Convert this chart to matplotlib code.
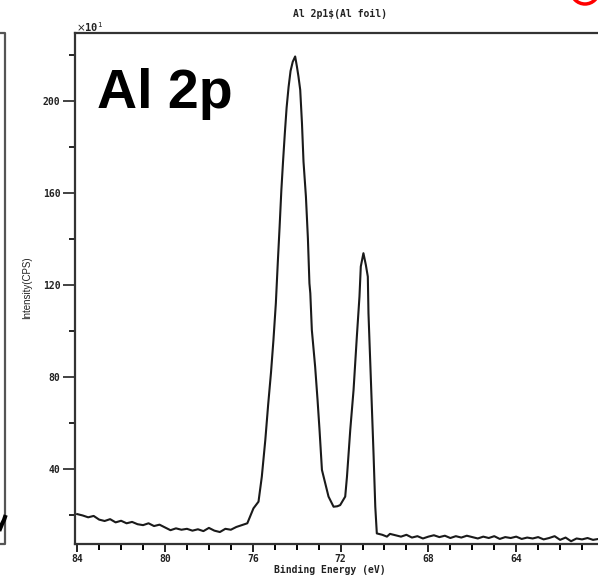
import matplotlib
matplotlib.use("Agg")
from matplotlib import pyplot as plt
from matplotlib.lines import Line2D
from matplotlib.patches import Ellipse
from matplotlib.ticker import MultipleLocator

# Al 2p spectrum, intensity in units of 10 CPS
binding_energy = [
    84.0, 83.75, 83.5, 83.25, 83.0, 82.75, 82.5, 82.25, 82.0, 81.75,
    81.5, 81.25, 81.0, 80.75, 80.5, 80.25, 80.0, 79.75, 79.5, 79.25,
    79.0, 78.75, 78.5, 78.25, 78.0, 77.75, 77.5, 77.25, 77.0, 76.75,
    76.5, 76.25, 75.97, 75.74, 75.59, 75.43, 75.3, 75.17, 75.06, 74.95,
    74.86, 74.78, 74.7, 74.62, 74.54, 74.46, 74.37, 74.28, 74.18, 74.07,
    73.99, 73.92, 73.84, 73.76, 73.69, 73.58, 73.49, 73.42, 73.38, 73.31,
    73.16, 73.05, 72.96, 72.85, 72.7, 72.55, 72.32, 72.15, 72.02, 71.79,
    71.71, 71.56, 71.41, 71.26, 71.14, 71.08, 70.96, 70.85, 70.76, 70.73,
    70.62, 70.5, 70.42, 70.35, 70.1, 69.89, 69.75, 69.5, 69.25, 69.0,
    68.75, 68.5, 68.25, 68.0, 67.75, 67.5, 67.25, 67.0, 66.75, 66.5,
    66.25, 66.0, 65.75, 65.5, 65.25, 65.0, 64.75, 64.5, 64.25, 64.0,
    63.75, 63.5, 63.25, 63.0, 62.75, 62.5, 62.25, 62.0, 61.75, 61.5,
    61.25, 61.0, 60.75, 60.5, 60.25, 60.0,
]
intensity = [
    20.4, 19.8, 19.0, 19.6, 18.0, 17.4, 18.2, 16.8, 17.5, 16.4,
    17.0, 16.0, 15.6, 16.4, 15.2, 15.8, 14.6, 13.4, 14.2, 13.6,
    14.0, 13.2, 13.8, 13.0, 14.4, 13.2, 12.6, 14.0, 13.6, 14.8,
    15.6, 16.4, 22.9, 25.8, 36.6, 52.6, 68.0, 82.0, 96.0, 112.0,
    130.0, 145.0, 161.0, 174.0, 186.0, 197.0, 206.0, 213.0, 217.0, 219.3,
    214.9, 210.6, 204.8, 190.3, 173.6, 158.4, 140.3, 120.7, 116.4, 100.4,
    84.5, 70.0, 57.0, 39.6, 33.8, 28.0, 23.6, 23.8, 24.3, 28.0,
    36.6, 57.0, 74.3, 97.5, 115.0, 128.0, 133.8, 128.7, 123.6, 107.7,
    78.7, 46.8, 23.6, 12.0, 11.4, 10.6, 11.8, 11.2, 10.6, 11.4,
    10.2, 10.8, 9.8, 10.6, 11.2, 10.4, 11.0, 10.0, 10.8, 10.2,
    11.0, 10.4, 9.8, 10.6, 10.0, 10.8, 9.6, 10.4, 10.0, 10.6,
    9.6, 10.2, 9.8, 10.4, 9.4, 10.0, 10.8, 9.2, 10.2, 8.6,
    9.8, 9.4, 10.0, 9.2, 9.6, 9.2,
]
x_ticks = [84, 80, 76, 72, 68, 64]
y_ticks = [40, 80, 120, 160, 200]

W, H = 598, 576
fig = plt.figure(figsize=(W / 100, H / 100), dpi=100)
ax = fig.add_axes([75 / W, 32 / H, 529 / W, 511 / H])

ax.plot(binding_energy, intensity, color="#1a1a1a", lw=1.5)

ax.set_xlim(84.1, 60.0)
ax.set_ylim(7.4, 229.5)

ax.set_xticks(x_ticks)
ax.set_yticks(y_ticks)
ax.xaxis.set_minor_locator(MultipleLocator(1))
ax.yaxis.set_minor_locator(MultipleLocator(20))

for s in ["top", "left", "bottom", "right"]:
    ax.spines[s].set_linewidth(1.6)
    ax.spines[s].set_color("#333333")

ax.tick_params(axis="x", which="major", direction="out", length=6, width=1.4,
               pad=1.5, colors="#222222")
ax.tick_params(axis="x", which="minor", direction="out", length=4.5, width=1.4)
ax.tick_params(axis="y", which="major", direction="out", length=8.5, width=1.2,
               pad=2, colors="#222222")
ax.tick_params(axis="y", which="minor", direction="out", length=4.5, width=1.2)
for lab in ax.get_xticklabels() + ax.get_yticklabels():
    lab.set_fontfamily("DejaVu Sans Mono")
    lab.set_fontweight("bold")
    lab.set_fontsize(7)

fig.text(340 / W, 1 - 14 / H, "Al 2p1$(Al foil)", ha="center", va="center",
         family="DejaVu Sans Mono", weight="bold", size=7, color="#222222")
fig.text(330 / W, 1 - 570 / H, "Binding Energy (eV)", ha="center", va="center",
         family="DejaVu Sans Mono", weight="bold", size=7, color="#222222")
fig.text(27 / W, 1 - 288 / H, "Intensity(CPS)", ha="center", va="center",
         rotation=90, family="Liberation Sans", size=7, color="#222222")
fig.text(76 / W, 1 - 27 / H, r"$\times$10$^{1}$", ha="left", va="center",
         family="DejaVu Sans Mono", weight="bold", size=7.5, color="#222222")

# big label inside the plot
ax.text(97 / W, 1 - 108 / H, "Al 2p", transform=fig.transFigure,
        ha="left", va="baseline", family="Liberation Sans", weight="bold",
        size=40, color="black")

# edge of the neighbouring panel on the left
px = [0, 5, 5, 0]
py = [33, 33, 544, 544]
fig.add_artist(Line2D([x / W for x in px], [1 - y / H for y in py],
                      color="#555555", lw=1.6))
fig.add_artist(Line2D([0 / W, 2 / W, 4 / W, 5 / W],
                      [1 - 529 / H, 1 - 524 / H, 1 - 520 / H, 1 - 517 / H],
                      color="black", lw=3))

# red circle marker cut off at the top right
fig.add_artist(Ellipse((585 / W, 1 + 10 / H), 28 / W, 28 / H, fill=False,
                       edgecolor="red", lw=2.5, transform=fig.transFigure,
                       clip_on=False))

fig.savefig("out.png", dpi=100)
